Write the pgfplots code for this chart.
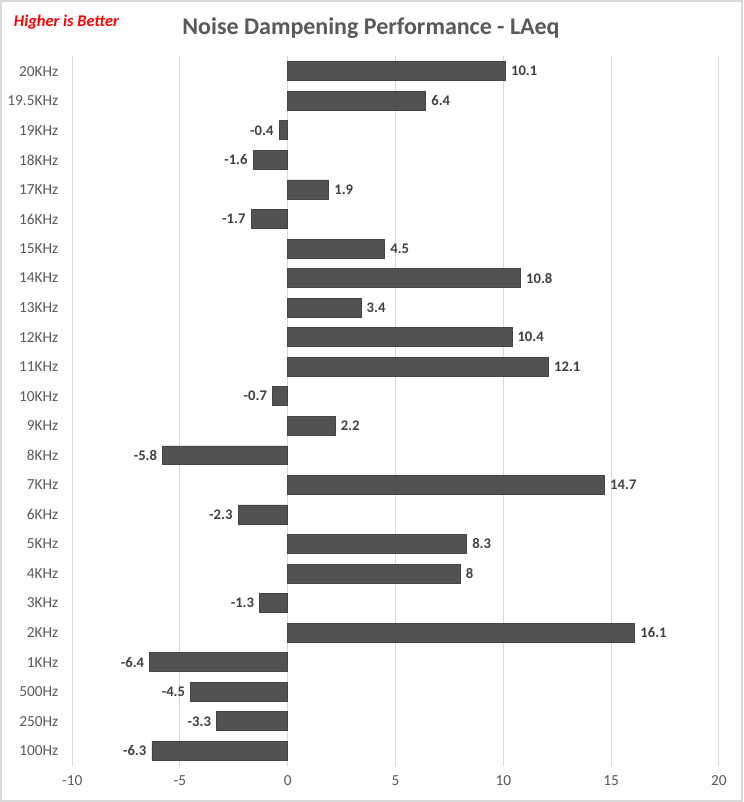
\documentclass[border=0pt]{standalone}
\usepackage{pgfplots}
\pgfplotsset{compat=1.18}
\usepackage{fontspec}
\setmainfont{Carlito}
\definecolor{barc}{HTML}{525252}
\definecolor{bared}{HTML}{454545}
\definecolor{txtc}{HTML}{595959}
\definecolor{lblc}{HTML}{404040}
\definecolor{gridc}{HTML}{D9D9D9}
\definecolor{brd}{HTML}{D9D9D9}
\begin{document}
\begin{tikzpicture}[x=0.75pt,y=0.75pt]
\fill[white] (0,0) rectangle (743,802);
\draw[brd, line width=1.5pt] (0.75,0.75) rectangle (742.25,801.25);
\node[font=\fontsize{18}{21}\selectfont\bfseries, text=txtc] at (371,774) {Noise Dampening Performance - LAeq};
\node[font=\fontsize{12.3}{14}\selectfont\bfseries\itshape, text=red, anchor=west] at (9,780) {Higher is Better};
\begin{axis}[
  at={(72*0.75pt,36.2*0.75pt)}, anchor=south west,
  scale only axis,
  width=485.25pt, height=532.2pt,
  xbar, bar width=14.2pt,
  xmin=-10, xmax=20,
  ymin=-0.5, ymax=23.5,
  xtick={-10,-5,0,5,10,15,20},
  ytick={0,...,23},
  yticklabels={100Hz,250Hz,500Hz,1KHz,2KHz,3KHz,4KHz,5KHz,6KHz,7KHz,8KHz,9KHz,10KHz,11KHz,12KHz,13KHz,14KHz,15KHz,16KHz,17KHz,18KHz,19KHz,19.5KHz,20KHz},
  axis line style={draw=none},
  major tick length=0pt,
  xmajorgrids, grid style={gridc, line width=0.75pt},
  ymajorgrids=false,
  tick label style={font=\fontsize{11.5}{13}\selectfont, text=txtc},
  /pgf/number format/assume math mode=true,
  yticklabel style={xshift=-7pt},
  xticklabel style={yshift=-4pt},
  nodes near coords,
  nodes near coords style={font=\fontsize{11}{13}\selectfont\bfseries, text=lblc, /pgf/number format/assume math mode=true, inner xsep=4pt},
  clip=false,
]
\addplot[fill=barc, draw=bared, line width=0.5pt] coordinates {
(-6.3,0) (-3.3,1) (-4.5,2) (-6.4,3) (16.1,4) (-1.3,5) (8,6) (8.3,7) (-2.3,8) (14.7,9)
(-5.8,10) (2.2,11) (-0.7,12) (12.1,13) (10.4,14) (3.4,15) (10.8,16) (4.5,17) (-1.7,18)
(1.9,19) (-1.6,20) (-0.4,21) (6.4,22) (10.1,23)
};
\end{axis}
\end{tikzpicture}
\end{document}
